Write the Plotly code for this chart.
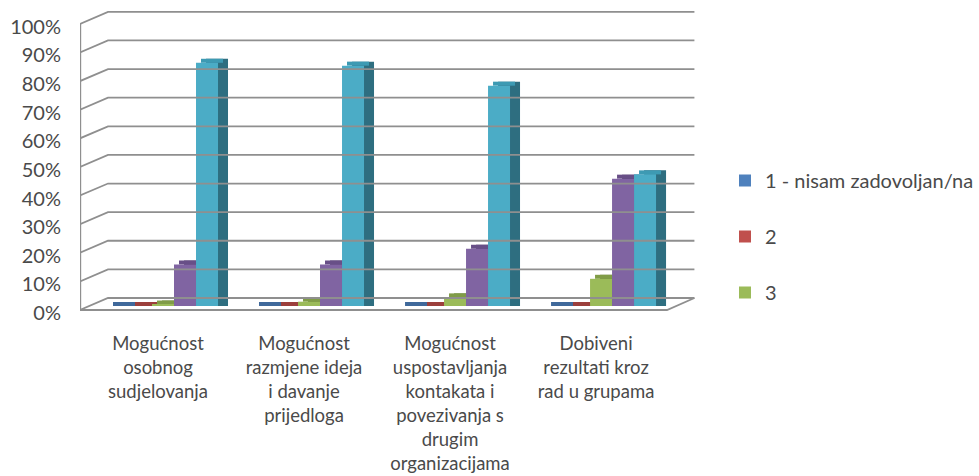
import plotly.graph_objects as go

# ---------------- data ----------------
categories = [
    "Mogućnost<br>osobnog<br>sudjelovanja",
    "Mogućnost<br>razmjene ideja<br>i davanje<br>prijedloga",
    "Mogućnost<br>uspostavljanja<br>kontakata i<br>povezivanja s<br>drugim<br>organizacijama",
    "Dobiveni<br>rezultati kroz<br>rad u grupama",
]
series_names = ["1 - nisam zadovoljan/na", "2", "3", "4", "5"]
s1 = [0.0, 0.0, 0.0, 0.0]
s2 = [0.0, 0.0, 0.0, 0.0]
s3 = [0.5, 1.5, 3.0, 9.5]
s4 = [14.5, 14.5, 20.0, 44.5]
s5 = [85.0, 84.0, 77.0, 46.0]
series_values = [s1, s2, s3, s4, s5]
legend_shown = [True, True, True, False, False]
tick_values = [0, 10, 20, 30, 40, 50, 60, 70, 80, 90, 100]
tick_labels = [f"{v}%" for v in tick_values]

# ---------------- style ----------------
front_colors = ["#4F81BD", "#C0504D", "#9BBB59", "#8064A2", "#4BACC6"]
top_colors = ["#40699B", "#9C3F3C", "#809C47", "#684F87", "#3D9AB3"]
side_colors = ["#2E4F78", "#7A302E", "#5F7833", "#4E3A68", "#2E6E80"]
grid_color = "#8f8f8f"
text_color = "#4a4a4a"
FONT = "Lato"

PX_X = 146.0          # px per category unit
PX_Y = 2.86           # px per percent
BAR_W = 22 / PX_X
BAR_SHIFT = 10 / PX_X
LABEL_SHIFT = 5 / PX_X
DEPTH_X = 28 / PX_X
DEPTH_Y = 12 / PX_Y
BAR_BASE = -DEPTH_Y + 4 / PX_Y
TOP_DX = 5 / PX_X
SIDE_DX = 10 / PX_X
FACE_DY = 4 / PX_Y

X_LEFT = -0.5
X_RIGHT = 3.712
Y_MIN, Y_MAX = -5.6, 101.0

fig = go.Figure()

# walls / gridlines (3D perspective look)
gx, gy = [], []
for v in tick_values:
    gx += [X_LEFT, X_LEFT + DEPTH_X, X_RIGHT - 0.004, None]
    gy += [v - DEPTH_Y, v, v, None]
# front-left vertical edge
gx += [X_LEFT + 0.002, X_LEFT + 0.002, None]
gy += [-DEPTH_Y, tick_values[-1] - DEPTH_Y, None]
# floor front edge
floor_front_right = X_RIGHT - DEPTH_X
gx += [X_LEFT, floor_front_right, X_RIGHT - 0.004, None]
gy += [-DEPTH_Y, -DEPTH_Y, 0, None]
fig.add_trace(go.Scatter(x=gx, y=gy, mode="lines",
                         line=dict(color=grid_color, width=1.8),
                         hoverinfo="skip", showlegend=False))

cat_x = [i + BAR_SHIFT for i in range(len(categories))]
n = len(series_values)

# side faces
for j, vals in enumerate(series_values):
    fig.add_trace(go.Bar(x=cat_x, y=[v + FACE_DY for v in vals], base=BAR_BASE,
                         offset=(j - n / 2) * BAR_W + SIDE_DX, width=BAR_W,
                         marker=dict(color=side_colors[j], line=dict(width=0)),
                         showlegend=False, hoverinfo="skip"))
# top faces
for j, vals in enumerate(series_values):
    fig.add_trace(go.Bar(x=cat_x, y=[FACE_DY] * len(vals),
                         base=[BAR_BASE + v for v in vals],
                         offset=(j - n / 2) * BAR_W + TOP_DX, width=BAR_W,
                         marker=dict(color=top_colors[j], line=dict(width=0)),
                         showlegend=False, hoverinfo="skip"))
# front faces
for j, vals in enumerate(series_values):
    fig.add_trace(go.Bar(x=cat_x, y=vals, base=BAR_BASE,
                         offset=(j - n / 2) * BAR_W, width=BAR_W,
                         name=series_names[j], legendgroup=f"g{j}",
                         showlegend=legend_shown[j],
                         marker=dict(color=front_colors[j], line=dict(width=0))))

# dummy trace for the label axis
fig.add_trace(go.Scatter(x=[0], y=[0], yaxis="y2", mode="markers",
                         marker=dict(opacity=0), showlegend=False, hoverinfo="skip"))

label_shift = 15 / PX_Y
fig.update_layout(
    width=979, height=476,
    margin=dict(l=80, r=979 - 695, t=9, b=162, autoexpand=False),
    paper_bgcolor="white", plot_bgcolor="white",
    barmode="overlay",
    font=dict(family=FONT, size=20, color=text_color),
    xaxis=dict(range=[X_LEFT, X_RIGHT], showgrid=False, zeroline=False,
               showline=False, ticks="", automargin=False,
               tickvals=[i + LABEL_SHIFT for i in range(len(categories))],
               ticktext=categories, tickangle=0,
               tickfont=dict(family=FONT, size=18.5, color=text_color),
               ticklabelstandoff=16),
    yaxis=dict(range=[Y_MIN, Y_MAX], showgrid=False, zeroline=False,
               showline=False, showticklabels=False, ticks="", automargin=False),
    yaxis2=dict(range=[Y_MIN + label_shift, Y_MAX + label_shift], overlaying="y",
                side="left", showgrid=False, zeroline=False, showline=False,
                tickvals=tick_values, ticktext=tick_labels, ticks="",
                automargin=False,
                tickfont=dict(family=FONT, size=20, color=text_color),
                ticklabelstandoff=18),
    legend=dict(xref="container", yref="container", x=725 / 979, y=1 - 161 / 476,
                xanchor="left", yanchor="top", traceorder="grouped",
                tracegroupgap=27, font=dict(family=FONT, size=20, color=text_color),
                bgcolor="rgba(0,0,0,0)"),
)

fig.write_html("out.html", config={"displayModeBar": False},
               post_script="document.body.style.margin='0';document.body.style.padding='0';")
